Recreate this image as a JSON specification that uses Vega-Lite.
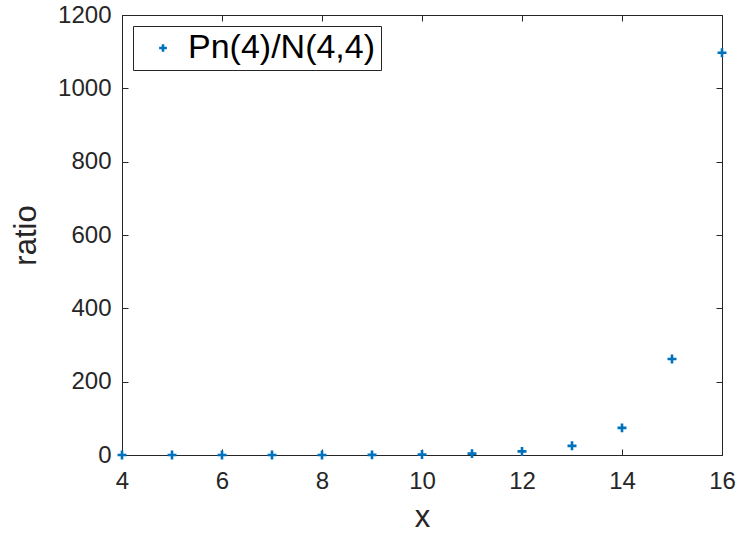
{
  "$schema": "https://vega.github.io/schema/vega-lite/v6.json",
  "autosize": "none",
  "width": 600,
  "height": 440,
  "padding": {"left": 122, "top": 15, "right": 18, "bottom": 80},
  "background": "white",
  "config": {
    "view": {"stroke": "#262626", "strokeWidth": 1},
    "font": "Liberation Sans",
    "axis": {
      "grid": false,
      "domainColor": "#262626",
      "tickColor": "#262626",
      "labelColor": "#262626",
      "titleColor": "#262626",
      "labelFont": "Liberation Sans",
      "titleFont": "Liberation Sans",
      "labelFontSize": 24,
      "titleFontSize": 31,
      "titleFontWeight": "normal",
      "tickSize": -6,
      "tickWidth": 1,
      "labelFlush": false,
      "labelOverlap": false
    }
  },
  "data": {
    "values": [
      {"x": 4, "ratio": 0.03},
      {"x": 5, "ratio": 0.05},
      {"x": 6, "ratio": 0.08},
      {"x": 7, "ratio": 0.12},
      {"x": 8, "ratio": 0.2},
      {"x": 9, "ratio": 0.4},
      {"x": 10, "ratio": 1.2},
      {"x": 11, "ratio": 3.8},
      {"x": 12, "ratio": 9.8},
      {"x": 13, "ratio": 25},
      {"x": 14, "ratio": 74},
      {"x": 15, "ratio": 262},
      {"x": 16, "ratio": 1097}
    ]
  },
  "layer": [
    {
      "mark": {"type": "point", "opacity": 0},
      "encoding": {
        "x": {"field": "x", "type": "quantitative", "scale": {"domain": [4, 16], "nice": false},
              "axis": {"orient": "top", "labels": false, "title": null, "values": [4,6,8,10,12,14,16], "domain": false}},
        "y": {"field": "ratio", "type": "quantitative", "scale": {"domain": [0, 1200], "nice": false},
              "axis": {"orient": "right", "labels": false, "title": null, "values": [0,200,400,600,800,1000,1200], "domain": false}}
      }
    },
    {
      "mark": {"type": "point", "filled": false, "opacity": 1, "strokeWidth": 2.6, "size": 80,
               "shape": "M-1,0H1M0,-1V1"},
      "encoding": {
        "x": {"field": "x", "type": "quantitative", "scale": {"domain": [4, 16], "nice": false},
              "axis": {"orient": "bottom", "title": "x", "format": "d", "values": [4,6,8,10,12,14,16], "labelPadding": 20, "titlePadding": 9}},
        "y": {"field": "ratio", "type": "quantitative", "scale": {"domain": [0, 1200], "nice": false},
              "axis": {"orient": "left", "title": "ratio", "format": "d", "values": [0,200,400,600,800,1000,1200], "labelPadding": 17, "titlePadding": 15}},
        "color": {"datum": "Pn(4)/N(4,4)", "type": "nominal", "scale": {"range": ["#0072BD"]},
                  "legend": {"title": null, "orient": "top-left", "offset": 11,
                             "strokeColor": "#262626", "fillColor": "white", "padding": 5,
                             "labelFontSize": 34, "labelFont": "Liberation Sans", "labelColor": "#000000",
                             "symbolType": "M-1,0H1M0,-1V1", "symbolStrokeWidth": 2.6, "symbolSize": 60, "symbolOpacity": 1,
                             "labelOffset": 8, "symbolOffset": 8, "labelLimit": 400}}
      }
    }
  ],
  "resolve": {"axis": {"x": "independent", "y": "independent"}}
}
